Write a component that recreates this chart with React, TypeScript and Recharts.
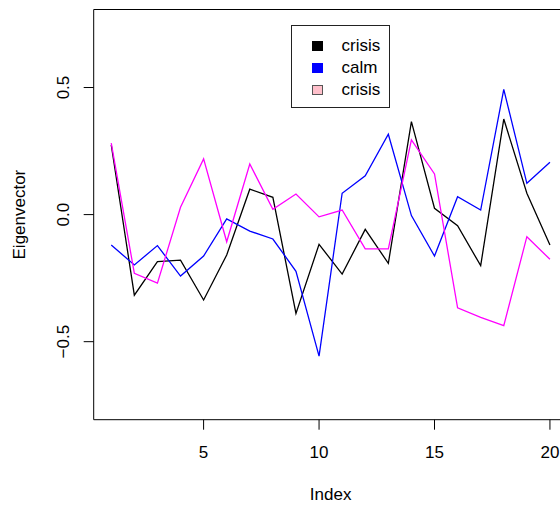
import { LineChart, Line, XAxis, YAxis, ReferenceArea, Legend } from 'recharts';

const FONT = '"Liberation Sans", Arial, Helvetica, sans-serif';

const INDEX = [1, 2, 3, 4, 5, 6, 7, 8, 9, 10, 11, 12, 13, 14, 15, 16, 17, 18, 19, 20];

const CRISIS_A = [
  0.274, -0.317, -0.185, -0.179, -0.336, -0.159, 0.1, 0.068, -0.389, -0.117,
  -0.234, -0.058, -0.192, 0.366, 0.025, -0.044, -0.201, 0.376, 0.084, -0.12,
];
const CALM = [
  -0.12, -0.198, -0.122, -0.242, -0.163, -0.017, -0.065, -0.096, -0.223, -0.557,
  0.084, 0.153, 0.316, -0.004, -0.163, 0.07, 0.018, 0.493, 0.123, 0.206,
];
const CRISIS_B = [
  0.281, -0.231, -0.27, 0.029, 0.219, -0.107, 0.199, 0.021, 0.081, -0.009,
  0.018, -0.135, -0.135, 0.294, 0.16, -0.367, -0.404, -0.437, -0.087, -0.176,
];

const X_TICKS = [5, 10, 15, 20];
const Y_TICKS = [-0.5, 0, 0.5];
const X_DOMAIN = [0.24, 20.76];
const Y_DOMAIN = [-0.807, 0.807];

const LEGEND_LABELS = ['crisis', 'calm', 'crisis'];
const LEGEND_FILLS = ['#000000', '#0000ff', '#ffc0cb'];

const data = INDEX.map((idx, i) => ({
  idx,
  crisisA: CRISIS_A[i],
  calm: CALM[i],
  crisisB: CRISIS_B[i],
}));

const fmt = (v: number) => v.toFixed(1).replace('-', '\u2212');

function YTick({ x, y, payload }: any) {
  return (
    <text
      x={x}
      y={y}
      transform={`rotate(-90, ${x}, ${y})`}
      textAnchor="middle"
      fill="#000"
      fontSize={17}
      fontFamily={FONT}
    >
      {fmt(payload.value)}
    </text>
  );
}

function renderLegend() {
  return (
    <div
      style={{
        width: 99,
        height: 83,
        boxSizing: 'border-box',
        border: '1px solid #222',
        background: '#fff',
        paddingTop: 9,
        fontFamily: FONT,
        fontSize: 17,
      }}
    >
      {LEGEND_LABELS.map((label, i) => (
        <div key={i} style={{ display: 'flex', alignItems: 'center', height: 22 }}>
          <span
            style={{
              display: 'inline-block',
              width: 9,
              height: 8,
              marginLeft: 20,
              marginRight: 19,
              background: LEGEND_FILLS[i],
              border: i === 2 ? '1px solid #555' : `1px solid ${LEGEND_FILLS[i]}`,
            }}
          />
          <span style={{ lineHeight: '22px' }}>{label}</span>
        </div>
      ))}
    </div>
  );
}

export default function App() {
  return (
    <div
      style={{
        position: 'absolute',
        left: 0,
        top: 0,
        width: 560,
        height: 506,
        overflow: 'hidden',
        background: '#fff',
      }}
    >
      <LineChart
        width={580}
        height={506}
        data={data}
        margin={{ top: 9.5, right: 12.5, bottom: 0, left: 0 }}
      >
        <XAxis
          dataKey="idx"
          type="number"
          domain={X_DOMAIN}
          ticks={X_TICKS}
          allowDataOverflow
          height={86.3}
          axisLine={false}
          tickSize={10}
          tickMargin={16.5}
          tickLine={{ stroke: '#000' }}
          tick={{ fill: '#000', fontSize: 17, fontFamily: FONT }}
          label={{
            content: ({ viewBox }: any) => (
              <text
                x={viewBox.x + viewBox.width / 2}
                y={500}
                textAnchor="middle"
                fill="#000"
                fontSize={17}
                fontFamily={FONT}
              >
                Index
              </text>
            ),
          }}
        />
        <YAxis
          type="number"
          domain={Y_DOMAIN}
          ticks={Y_TICKS}
          allowDataOverflow
          width={93.7}
          axisLine={false}
          tickSize={10}
          tickMargin={14.7}
          tickLine={{ stroke: '#000' }}
          tick={<YTick />}
          label={{
            content: ({ viewBox }: any) => {
              const cy = viewBox.y + viewBox.height / 2;
              return (
                <text
                  x={25}
                  y={cy}
                  transform={`rotate(-90, 25, ${cy})`}
                  textAnchor="middle"
                  fill="#000"
                  fontSize={17}
                  fontFamily={FONT}
                >
                  Eigenvector
                </text>
              );
            },
          }}
        />
        <Line
          type="linear"
          dataKey="crisisA"
          stroke="#000000"
          strokeWidth={1.3}
          dot={false}
          isAnimationActive={false}
        />
        <Line
          type="linear"
          dataKey="calm"
          stroke="#0000ff"
          strokeWidth={1.3}
          dot={false}
          isAnimationActive={false}
        />
        <Line
          type="linear"
          dataKey="crisisB"
          stroke="#ff00ff"
          strokeWidth={1.3}
          dot={false}
          isAnimationActive={false}
        />
        <ReferenceArea
          x1={X_DOMAIN[0]}
          x2={X_DOMAIN[1]}
          y1={Y_DOMAIN[0]}
          y2={Y_DOMAIN[1]}
          fill="none"
          stroke="#000"
          strokeWidth={1}
        />
        <Legend
          layout="vertical"
          align="center"
          verticalAlign="middle"
          content={renderLegend}
          wrapperStyle={{ left: 290.5, top: 25, width: 99, height: 83 }}
        />
      </LineChart>
    </div>
  );
}
